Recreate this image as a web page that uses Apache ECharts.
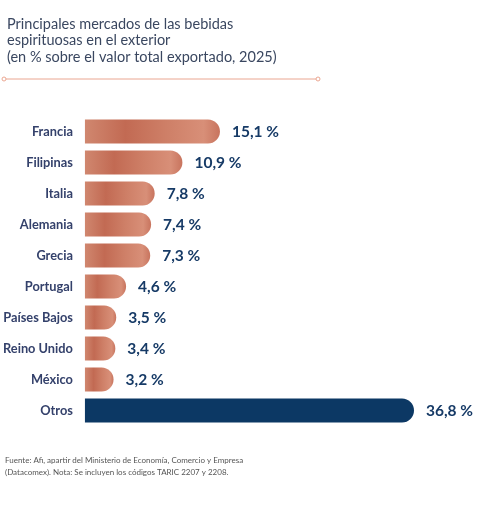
<!DOCTYPE html>
<html lang="es">
<head>
    <meta charset="UTF-8">
    <title>Bebidas espirituosas</title>
    <script src="https://cdn.jsdelivr.net/npm/echarts@6/dist/echarts.min.js" type="text/javascript"></script>
</head>
<body style="margin:0;background:#fff;">
<div id="chart" style="width:479px;height:524px;"></div>
<script>
    // datos
    var paises = ['Francia', 'Filipinas', 'Italia', 'Alemania', 'Grecia', 'Portugal', 'Países Bajos', 'Reino Unido', 'México', 'Otros'];
    var cuota = [15.1, 10.9, 7.8, 7.4, 7.3, 4.6, 3.5, 3.4, 3.2, 36.8];

    var cobre = new echarts.graphic.LinearGradient(0, 0, 1, 0, [
        {offset: 0, color: '#d0876f'},
        {offset: 0.3, color: '#c26a53'},
        {offset: 0.6, color: '#ce7f67'},
        {offset: 0.88, color: '#d88f78'},
        {offset: 1, color: '#c8745e'}
    ]);

    var barras = [];
    for (var i = 0; i < cuota.length; i++) {
        barras.push({
            value: cuota[i],
            itemStyle: {color: paises[i] === 'Otros' ? '#0c3864' : cobre}
        });
    }

    var chart = echarts.init(document.getElementById('chart'));
    chart.setOption({
        animation: false,
        textStyle: {fontFamily: 'Lato'},
        title: [{
            text: 'Principales mercados de las bebidas\nespirituosas en el exterior\n(en % sobre el valor total exportado, 2025)',
            left: 2,
            top: 11,
            textStyle: {fontFamily: 'Lato', fontSize: 14.5, fontWeight: 'normal', color: '#3a4760', lineHeight: 16.5}
        }, {
            text: 'Fuente: Afi, apartir del Ministerio de Economía, Comercio y Empresa\n(Datacomex). Nota: Se incluyen los códigos TARIC 2207 y 2208.',
            left: 0,
            top: 449,
            textStyle: {fontFamily: 'Lato', fontSize: 8, fontWeight: 'normal', color: '#555', lineHeight: 12}
        }],
        graphic: [
            {type: 'line', shape: {x1: 5, y1: 79, x2: 317, y2: 79}, style: {stroke: '#eaa691', lineWidth: 1}},
            {type: 'circle', shape: {cx: 4, cy: 79, r: 2}, style: {fill: '#fff', stroke: '#eaa691', lineWidth: 1}},
            {type: 'circle', shape: {cx: 318, cy: 79, r: 2}, style: {fill: '#fff', stroke: '#eaa691', lineWidth: 1}}
        ],
        grid: {left: 84, right: 65, top: 116, bottom: 98},
        xAxis: {
            type: 'value',
            min: 0,
            max: 36.8,
            show: false
        },
        yAxis: {
            type: 'category',
            inverse: true,
            data: paises,
            axisLine: {show: false},
            axisTick: {show: false},
            axisLabel: {margin: 12, fontSize: 12.8, fontWeight: 'bold', color: '#34416b', fontFamily: 'Lato'}
        },
        series: [{
            type: 'bar',
            data: barras,
            barWidth: 24,
            itemStyle: {borderRadius: [0, 12, 12, 0]},
            label: {
                show: true,
                position: 'right',
                distance: 12,
                fontSize: 15.5,
                fontWeight: 'bold',
                color: '#163a66',
                fontFamily: 'Lato',
                formatter: function (p) {
                    return p.value.toFixed(1).replace('.', ',') + ' %';
                }
            }
        }]
    });
</script>
</body>
</html>
